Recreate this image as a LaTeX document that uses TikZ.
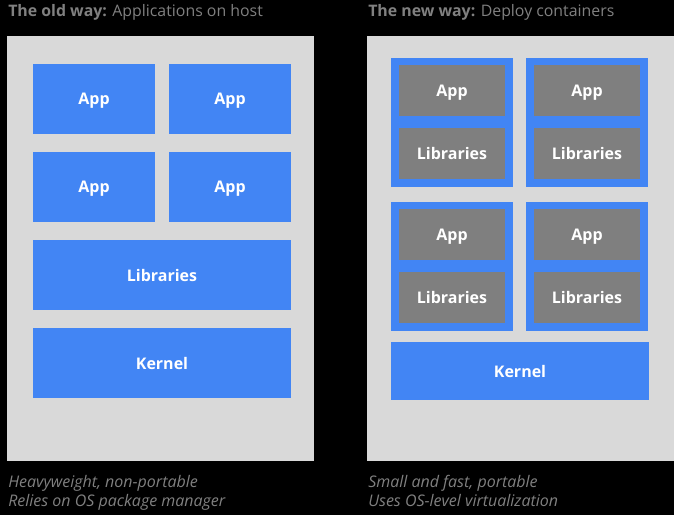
\documentclass[tikz,border=0pt]{standalone}
\usepackage{fontspec}
\setmainfont{Open Sans}
\definecolor{txtgray}{RGB}{128,128,128}
\definecolor{panelgray}{RGB}{217,217,217}
\definecolor{gblue}{RGB}{66,133,244}
\definecolor{dgray}{RGB}{127,127,127}
\tikzset{
  panel/.style={anchor=north west, inner sep=0pt, outer sep=0pt, fill=panelgray},
  bluebox/.style={anchor=north west, inner sep=0pt, outer sep=0pt, text depth=0pt, fill=gblue, text=white, font=\fontsize{12pt}{14pt}\selectfont\bfseries},
  graybox/.style={anchor=north west, inner sep=0pt, outer sep=0pt, text depth=0pt, fill=dgray, text=white, font=\fontsize{12pt}{14pt}\selectfont\bfseries},
  title/.style={anchor=base west, inner sep=0pt, text=txtgray, font=\fontsize{11.9pt}{14pt}\selectfont},
  foot/.style={anchor=base west, inner sep=0pt, text=txtgray, font=\fontsize{12pt}{14pt}\selectfont\itshape},
}
\begin{document}
\begin{tikzpicture}[x=0.75pt,y=-0.75pt]
\fill[black] (0,0) rectangle (674,515);
\useasboundingbox (0,0) rectangle (674,515);
% titles
\node[title] (t1) at (8,16) {\textbf{The old way:} Applications on host};
\node[title] (t2) at (368,16) {\textbf{The new way:} Deploy containers};
% left panel
\node[panel, minimum width=230.25pt, minimum height=318.75pt] (lp) at (7,36) {};
\node[bluebox, minimum width=91.5pt, minimum height=52.5pt] (la1) at (33,64) {App};
\node[bluebox, minimum width=91.5pt, minimum height=52.5pt] (la2) at (169,64) {App};
\node[bluebox, minimum width=91.5pt, minimum height=52.5pt] (la3) at (33,152) {App};
\node[bluebox, minimum width=91.5pt, minimum height=52.5pt] (la4) at (169,152) {App};
\node[bluebox, minimum width=193.5pt, minimum height=52.5pt] (llib) at (33,240) {Libraries};
\node[bluebox, minimum width=193.5pt, minimum height=52.5pt] (lker) at (33,328) {Kernel};
% right panel
\node[panel, minimum width=230.25pt, minimum height=318.75pt] (rp) at (367,36) {};
\node[bluebox, minimum width=91.5pt, minimum height=96.75pt] (c1) at (391,58) {};
\node[bluebox, minimum width=91.5pt, minimum height=96.75pt] (c2) at (526,58) {};
\node[bluebox, minimum width=91.5pt, minimum height=96.75pt] (c3) at (391,202) {};
\node[bluebox, minimum width=91.5pt, minimum height=96.75pt] (c4) at (526,202) {};
\node[graybox, minimum width=79.5pt, minimum height=38.25pt] (a1) at (399,65) {App};
\node[graybox, minimum width=79.5pt, minimum height=38.25pt] (l1) at (399,128) {Libraries};
\node[graybox, minimum width=79.5pt, minimum height=38.25pt] (a2) at (534,65) {App};
\node[graybox, minimum width=79.5pt, minimum height=38.25pt] (l2) at (534,128) {Libraries};
\node[graybox, minimum width=79.5pt, minimum height=38.25pt] (a3) at (399,209) {App};
\node[graybox, minimum width=79.5pt, minimum height=38.25pt] (l3) at (399,272) {Libraries};
\node[graybox, minimum width=79.5pt, minimum height=38.25pt] (a4) at (534,209) {App};
\node[graybox, minimum width=79.5pt, minimum height=38.25pt] (l4) at (534,272) {Libraries};
\node[bluebox, minimum width=193.5pt, minimum height=43.5pt] (rker) at (391,342) {Kernel};
% footers
\node[foot] (f1) at (8,487) {Heavyweight, non-portable};
\node[foot] (f2) at (8,506) {Relies on OS package manager};
\node[foot] (f3) at (368,487) {Small and fast, portable};
\node[foot] (f4) at (368,506) {Uses OS-level virtualization};
\end{tikzpicture}
\end{document}
